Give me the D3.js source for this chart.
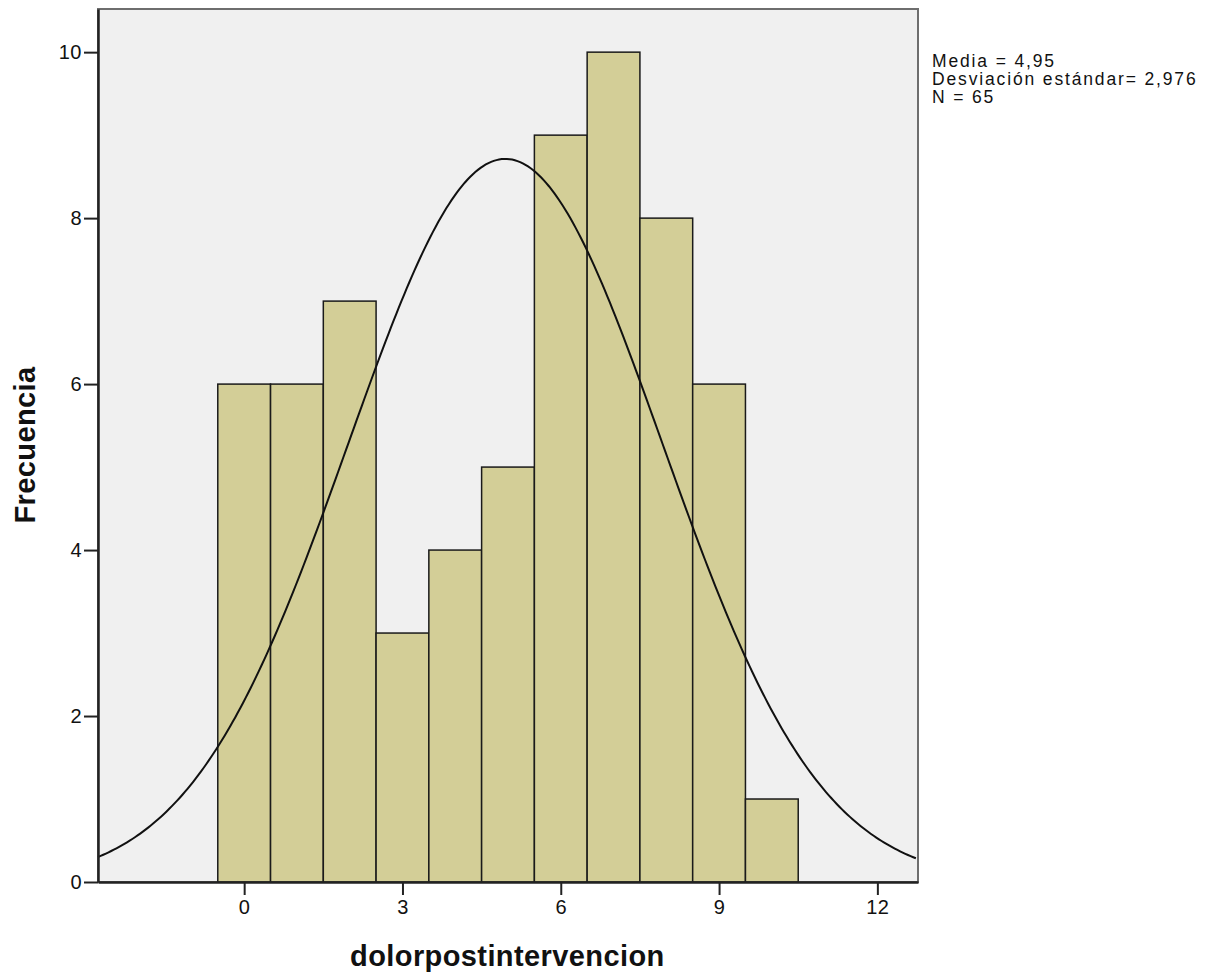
<!DOCTYPE html>
<html>
<head>
<meta charset="utf-8">
<script src="https://cdn.jsdelivr.net/npm/d3@7"></script>
<style>
  body { margin: 0; background: #fff; }
  svg text { font-family: "Liberation Sans", Arial, sans-serif; fill: #111; }
</style>
</head>
<body>
<div id="chart"></div>
<script>
// histogram data (bin centers and counts)
const binCenters = [0, 1, 2, 3, 4, 5, 6, 7, 8, 9, 10];
const counts = [6, 6, 7, 3, 4, 5, 9, 10, 8, 6, 1];
const xTicks = [0, 3, 6, 9, 12];
const yTicks = [0, 2, 4, 6, 8, 10];
const stats = { mean: 4.95, sd: 2.976, n: 65 };
const legendLines = ["Media = 4,95", "Desviación estándar= 2,976", "N = 65"];

// set dimensions and margins
const W = 1219, H = 974;
const margin = { top: 9, right: 301, bottom: 92, left: 98 },
      width = W - margin.left - margin.right,
      height = H - margin.top - margin.bottom;

const svg = d3.select("#chart")
  .append("svg")
    .attr("width", W)
    .attr("height", H);

const g = svg.append("g")
    .attr("transform", `translate(${margin.left},${margin.top})`);

// scales
const x = d3.scaleLinear().domain([-2.77, 12.77]).range([0, width]);
const y = d3.scaleLinear().domain([0, 10.52]).range([height, 0]);

// plot background + frame
g.append("rect")
  .attr("width", width)
  .attr("height", height)
  .attr("fill", "#f0f0f0")
  .attr("stroke", "#6e6e6e")
  .attr("stroke-width", 2);

// bars
g.selectAll(".bar")
  .data(binCenters.map((c, i) => ({ c, v: counts[i] })))
  .enter()
  .append("rect")
    .attr("class", "bar")
    .attr("x", d => x(d.c - 0.5))
    .attr("y", d => y(d.v))
    .attr("width", d => x(d.c + 0.5) - x(d.c - 0.5))
    .attr("height", d => y(0) - y(d.v))
    .attr("fill", "#d3ce97")
    .attr("stroke", "#1a1a1a")
    .attr("stroke-width", 1.5);

// normal curve
const pdf = v => stats.n / (stats.sd * Math.sqrt(2 * Math.PI)) *
  Math.exp(-0.5 * Math.pow((v - stats.mean) / stats.sd, 2));
const xs = d3.range(x.domain()[0], x.domain()[1] + 0.001, 0.05);
g.append("path")
  .datum(xs)
  .attr("fill", "none")
  .attr("stroke", "#111")
  .attr("stroke-width", 2)
  .attr("d", d3.line().x(d => x(d)).y(d => y(pdf(d))));

// axes
const xAxis = g.append("g")
  .attr("transform", `translate(0,${height})`)
  .call(d3.axisBottom(x).tickValues(xTicks).tickSize(13).tickPadding(5).tickSizeOuter(0));
const yAxis = g.append("g")
  .call(d3.axisLeft(y).tickValues(yTicks).tickSize(14).tickPadding(2).tickSizeOuter(0));

[xAxis, yAxis].forEach(a => {
  a.select(".domain").attr("stroke", "#222").attr("stroke-width", 2.5);
  a.selectAll(".tick line").attr("stroke", "#222").attr("stroke-width", 2);
  a.selectAll(".tick text")
    .attr("font-size", "20px")
    .attr("font-family", "Liberation Sans, Arial, sans-serif")
    .attr("letter-spacing", "0.5px")
    .attr("fill", "#222");
});

// axis titles
svg.append("text")
  .attr("x", margin.left + x(4.95) + 2)
  .attr("y", 966)
  .attr("text-anchor", "middle")
  .attr("font-size", "29px")
  .attr("letter-spacing", "0.4px")
  .attr("font-weight", "bold")
  .text("dolorpostintervencion");

svg.append("text")
  .attr("transform", `translate(35, 445) rotate(-90)`)
  .attr("text-anchor", "middle")
  .attr("font-size", "29px")
  .attr("letter-spacing", "0.4px")
  .attr("font-weight", "bold")
  .text("Frecuencia");

// legend text
svg.append("g")
  .selectAll("text")
  .data(legendLines)
  .enter()
  .append("text")
    .attr("x", 932)
    .attr("y", (d, i) => 67 + i * 18.2)
    .attr("font-size", "17.5px")
    .attr("letter-spacing", "1.85px")
    .text(d => d);
</script>
</body>
</html>
